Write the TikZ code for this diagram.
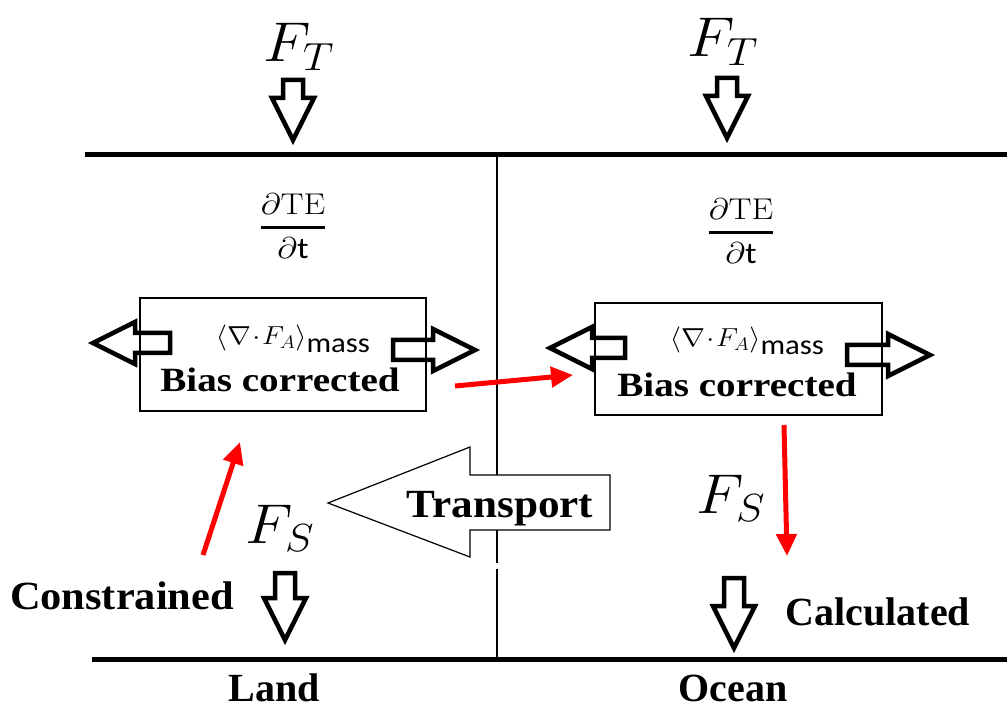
\RequirePackage{fix-cm}
\documentclass[tikz,border=0pt]{standalone}
\usepackage{fontspec}
\usetikzlibrary{arrows.meta}
\newfontfamily\tnr{Liberation Serif}
\newfontfamily\carl{Carlito}
\tikzset{
  pics/barrow/.style={code={\draw[line width=4.5pt,line join=miter,miter limit=20]
     (0,-10)--(#1-42,-10)--(#1-42,-21)--(#1,0)--(#1-42,21)--(#1-42,10)--(0,10)--cycle;}},
  surface/.style={line width=5pt},
  divider/.style={line width=1.8pt},
  biasbox/.style={draw,line width=1.8pt,inner sep=0pt},
  redarrow/.style={red,line width=5pt,-{Triangle[length=22pt,width=20pt]}},
  blabel/.style={font=\fontsize{40}{44}\selectfont\tnr\bfseries,inner sep=0pt,anchor=base},
  mlabel/.style={font=\fontsize{56}{60}\selectfont,inner sep=0pt,anchor=base,xscale=1.1},
  frac/.style={font=\fontsize{30}{32}\selectfont,inner sep=0pt,xscale=1.15},
  flux/.style={font=\fontsize{26}{28}\selectfont,inner sep=0pt,anchor=base,xscale=1.1},
}
\newcommand\massflux{$\langle\nabla\!\cdot\! F_A\rangle$\raisebox{-8pt}{\fontsize{28}{30}\selectfont\carl mass}}
\newcommand\dTEdt{$\displaystyle{\partial\mathrm{TE}\above 3pt\partial\hbox{\carl t}}$}
\begin{document}
\begin{tikzpicture}[x=1pt,y=-1pt]
\useasboundingbox[fill=white] (0,0) rectangle (1007,708);
% surfaces
\coordinate (topL) at (85,155);
\coordinate (topR) at (1007,155);
\coordinate (botL) at (92,659);
\coordinate (botR) at (1007,659);
\draw[surface] (topL) -- (topR);
\draw[surface] (botL) -- (botR);
\coordinate (divT) at (497,155);
\coordinate (divM1) at (497,563);
\coordinate (divM2) at (497,569);
\coordinate (divB) at (497,659);
\draw[divider] (divT) -- (divM1);
\draw[divider] (divM2) -- (divB);
% top fluxes
\node[mlabel] (ftL) at (299,62) {$F_T$};
\node[mlabel] (ftR) at (723,57) {$F_T$};
\pic[rotate=-90] at (293,80) {barrow=60};
\pic[rotate=-90] at (727,78) {barrow=60};
% tendencies
\node[frac] (teL) at (293,226) {\dTEdt};
\node[frac] (teR) at (741,231) {\dTEdt};
% boxes
\node[biasbox,minimum width=286pt,minimum height=113pt] (boxL) at (283,354.5) {};
\node[biasbox,minimum width=287pt,minimum height=112pt] (boxR) at (738.5,359) {};
\node[flux] (faL) at (293,345) {\massflux};
\node[flux] (faR) at (747,347) {\massflux};
\node[blabel,font=\fontsize{34}{38}\selectfont\tnr\bfseries,xscale=1.15] (bcL) at (280,392) {Bias corrected};
\node[blabel,font=\fontsize{34}{38}\selectfont\tnr\bfseries,xscale=1.15] (bcR) at (737,397) {Bias corrected};
% side block arrows
\pic[rotate=180] at (170,343) {barrow=77};
\pic at (393,350) {barrow=82};
\pic[rotate=180] at (625,348) {barrow=75};
\pic at (847,355) {barrow=83};
% transport arrow
\draw[line width=1.2pt,fill=white] (328,503) -- (470,447) -- (470,475) -- (610,475) -- (610,530) -- (470,530) -- (470,557) -- cycle;
\node[blabel,xscale=1.08] (tr) at (500,517) {Transport};
% surface fluxes
\node[mlabel] (fsL) at (280,543) {$F_S$};
\node[mlabel] (fsR) at (731,513) {$F_S$};
\pic[rotate=-90] at (285,573) {barrow=67};
\pic[rotate=-90] at (734,578) {barrow=70};
\node[blabel,xscale=1.06] (con) at (122,609) {Constrained};
\node[blabel] (cal) at (878,625) {Calculated};
\node[blabel] (land) at (274,701) {Land};
\node[blabel] (ocean) at (733,701) {Ocean};
% red arrows
\coordinate (r1a) at (455,386);
\coordinate (r1b) at (573,375);
\coordinate (r2a) at (203,555);
\coordinate (r2b) at (240,442);
\coordinate (r3a) at (784,425);
\coordinate (r3b) at (787,556);
\draw[redarrow] (r1a) -- (r1b);
\draw[redarrow] (r2a) -- (r2b);
\draw[redarrow] (r3a) -- (r3b);
\end{tikzpicture}
\end{document}
